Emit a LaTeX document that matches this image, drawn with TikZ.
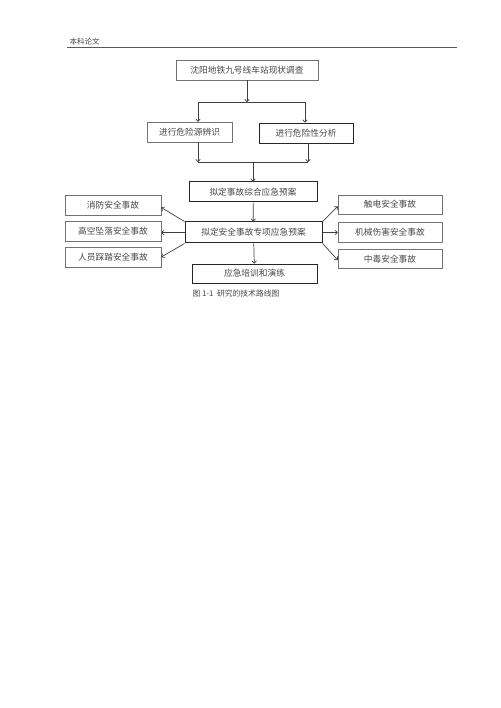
\documentclass[tikz,border=0pt]{standalone}
\usepackage{fontspec}
\newfontfamily\cjk{Noto Sans CJK SC}
\usetikzlibrary{arrows.meta}
\begin{document}
\begin{tikzpicture}[x=1pt,y=-1pt,
  txt/.style={font=\cjk\fontsize{8.7}{10}\selectfont, text=black!72},
  thinbox/.style={txt, draw=black!55, line width=0.6pt, rectangle, inner sep=0pt},
  mainbox/.style={txt, draw=black!85, line width=1pt, rectangle, inner sep=0pt},
  arr/.style={draw=black!75, line width=0.7pt, -{To[length=3pt,width=5pt]}},
  ln/.style={draw=black!75, line width=0.7pt}]
\useasboundingbox (0,0) rectangle (500,708);
\fill[white] (0,0) rectangle (500,708);
% header
\node[txt, font=\cjk\fontsize{7.5}{9}\selectfont, anchor=west] (hdr) at (66,42) {本科论文};
\coordinate (hl) at (67,47.5);
\coordinate (hr) at (457,47.5);
\draw[draw=black!65, line width=1.2pt] (hl) -- (hr);
% boxes
\node[thinbox, minimum width=142pt, minimum height=20pt] (b1) at (247,70) {沈阳地铁九号线车站现状调查};
\node[thinbox, minimum width=85pt, minimum height=20pt] (b2a) at (189.5,132) {进行危险源辨识};
\node[mainbox, line width=0.8pt, minimum width=94pt, minimum height=20pt] (b2b) at (306,133) {进行危险性分析};
\node[mainbox, minimum width=128pt, minimum height=20pt] (b3) at (253,192) {拟定事故综合应急预案};
\node[mainbox, minimum width=137pt, minimum height=21pt] (b4) at (253.5,232.5) {拟定安全事故专项应急预案};
\node[mainbox, line width=0.8pt, minimum width=125pt, minimum height=19pt] (b5) at (254.5,273.5) {应急培训和演练};
\node[thinbox, minimum width=96pt, minimum height=20pt] (l1) at (113,205.5) {消防安全事故};
\node[thinbox, minimum width=96pt, minimum height=20pt] (l2) at (113,231.5) {高空坠落安全事故};
\node[thinbox, minimum width=96pt, minimum height=20pt] (l3) at (113,257) {人员踩踏安全事故};
\node[thinbox, minimum width=104pt, minimum height=19pt] (r1) at (390,204.5) {触电安全事故};
\node[thinbox, minimum width=104pt, minimum height=20pt] (r2) at (390,232) {机械伤害安全事故};
\node[thinbox, minimum width=104pt, minimum height=19pt] (r3) at (390,259) {中毒安全事故};
% caption
\node[txt, font=\cjk\fontsize{7.8}{9}\selectfont] (cap) at (236,293.5) {图 1-1\ \ 研究的技术路线图};
% connectors
\coordinate (j1) at (247,102);
\coordinate (j1a) at (198,102);
\coordinate (j1b) at (305,102);
\draw[arr] (b1) -- (j1);
\draw[ln] (j1a) -- (j1b);
\draw[arr] (j1a) -- (j1a |- b2a.north);
\draw[arr] (j1b) -- (j1b |- b2b.north);
\coordinate (j2a) at (198,162);
\coordinate (j2b) at (308,162);
\coordinate (j2) at (253,162);
\draw[arr] (j2a |- b2a.south) -- (j2a);
\draw[arr] (j2b |- b2b.south) -- (j2b);
\draw[ln] (j2a) -- (j2b);
\draw[arr] (j2) -- (b3);
\draw[arr] (b3) -- (b4);
\draw[arr] (b4) -- (b5);
\draw[arr] (b4.north west) -- ([yshift=-2pt]l1.east);
\draw[arr] (b4.west) -- (b4.west -| l2.east);
\draw[arr] (b4.south west) -- (l3.east);
\draw[arr] (b4.north east) -- ([yshift=-2pt]r1.west);
\draw[arr] (b4.east) -- (b4.east -| r2.west);
\draw[arr] (b4.south east) -- ([yshift=-1pt]r3.west);
\end{tikzpicture}
\end{document}
